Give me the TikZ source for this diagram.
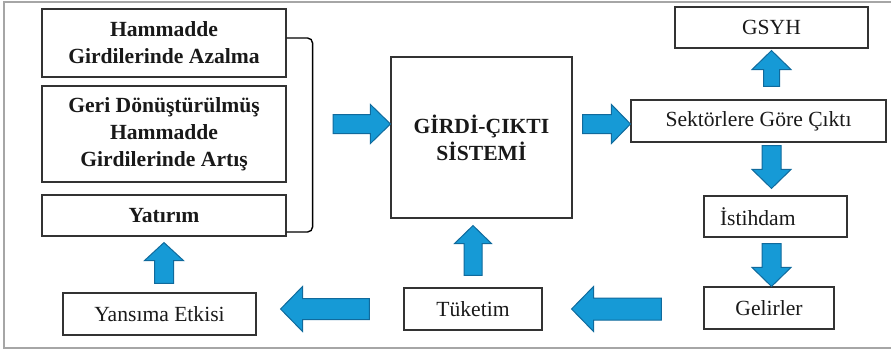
\documentclass[tikz,border=0pt]{standalone}
\usepackage{fontspec}
\setmainfont{Liberation Serif}
\usetikzlibrary{calc}
\definecolor{okmavi}{RGB}{22,154,214}
\definecolor{okkenar}{RGB}{16,106,156}
\tikzset{
	kutu/.style={draw=black!80, line width=1.1pt, inner sep=0pt, align=center, text=black!90, font=\fontsize{21.6}{27}\selectfont},
	kalin/.style={kutu, font=\fontsize{21.6}{27}\selectfont\bfseries},
	blok/.style={fill=okmavi, draw=okkenar, line width=1pt, line join=miter},
	cerceve/.style={draw=black!35, line width=1.3pt},
	parantez/.style={draw=black, line width=1.4pt, rounded corners=5pt}
}
% #1 kuyruk, #2 uc, #3 govde/2, #4 bas/2, #5 bas boyu
\newcommand{\blokok}[5]{%
	\coordinate (bb) at ($(#2)!#5!(#1)$);
	\draw[blok] ($(#1)!#3!90:(#2)$) -- ($(bb)!#3!90:(#2)$) -- ($(bb)!#4!90:(#2)$) -- (#2) -- ($(bb)!#4!-90:(#2)$) -- ($(bb)!#3!-90:(#2)$) -- ($(#1)!#3!-90:(#2)$) -- cycle;}
\begin{document}
\begin{tikzpicture}[x=1pt,y=-1pt]
	\path[use as bounding box] (0,0) rectangle (891,351);
	\draw[cerceve] (891,2) -- (4,2) -- (4,348) -- (891,348);
	
	\node[kalin, minimum width=244pt, minimum height=68pt] (ham) at (164,43) {Hammadde\\Girdilerinde Azalma};
	\node[kalin, minimum width=244pt, minimum height=96pt] (geri) at (164,134) {Geri Dönüştürülmüş\\Hammadde\\Girdilerinde Artış};
	\node[kalin, minimum width=244pt, minimum height=41pt] (yat) at (164,215.5) {Yatırım};
	\node[kalin, minimum width=181pt, minimum height=161pt] (girdi) at (481.5,137.5) {GİRDİ-ÇIKTI\\SİSTEMİ};
	\node[kutu, minimum width=255pt, minimum height=42pt] (sek) at (758.5,121) {Sektörlere Göre Çıktı};
	\node[kutu, minimum width=193pt, minimum height=41pt] (gsyh) at (771.5,27.5) {GSYH};
	\node[kutu, minimum width=143pt, minimum height=41pt, text width=111pt, align=left] (ist) at (775.5,216.5) {İstihdam};
	\node[kutu, minimum width=130pt, minimum height=42pt] (gel) at (769,308) {Gelirler};
	\node[kutu, minimum width=138pt, minimum height=42pt] (tuk) at (473,309) {Tüketim};
	\node[kutu, minimum width=193pt, minimum height=42pt] (yan) at (159.5,314) {Yansıma Etkisi};
	
	\draw[parantez] ([yshift=5pt]ham.east) -- ++(26,0) |- ([yshift=-16.5pt]yat.east);
	
	\coordinate (k1) at (333,124);
	\coordinate (u1) at (girdi.west |- k1);
	\coordinate (k2) at ($(girdi.east |- k1)+(10,0)$);
	\coordinate (u2) at (sek.west |- k1);
	\coordinate (k3) at ($(gsyh.south |- sek.north)+(0,-13)$);
	\coordinate (u3) at ($(gsyh.south)+(0,2)$);
	\coordinate (k4) at ($(gsyh.south |- sek.south)+(0,3)$);
	\coordinate (u4) at ($(gsyh.south |- ist.north)+(0,-7)$);
	\coordinate (k5) at ($(gsyh.south |- ist.south)+(0,6)$);
	\coordinate (u5) at (gsyh.south |- gel.north);
	\coordinate (k6) at ($(gel.west |- tuk.east)+(-42,0)$);
	\coordinate (u6) at ($(tuk.east)+(29,0)$);
	\coordinate (k7) at ($(tuk.north)+(0,-12)$);
	\coordinate (u7) at ($(tuk.north |- girdi.south)+(0,7)$);
	\coordinate (k8) at ($(tuk.west)+(-34,0)$);
	\coordinate (u8) at ($(yan.east |- tuk.west)+(24,0)$);
	\coordinate (k9) at ($(yat.south |- yan.north)+(0,-9)$);
	\coordinate (u9) at ($(yat.south)+(0,6)$);
	
	\blokok{k1}{u1}{9.5pt}{19.5pt}{20pt}
	\blokok{k2}{u2}{9.5pt}{19.5pt}{19pt}
	\blokok{k3}{u3}{8pt}{19.5pt}{19pt}
	\blokok{k4}{u4}{9.5pt}{19.5pt}{19pt}
	\blokok{k5}{u5}{9.5pt}{19.5pt}{19pt}
	\blokok{k6}{u6}{11pt}{22.5pt}{22pt}
	\blokok{k7}{u7}{9pt}{18.5pt}{18pt}
	\blokok{k8}{u8}{10.5pt}{22.5pt}{22pt}
	\blokok{k9}{u9}{9.5pt}{19.5pt}{18pt}
\end{tikzpicture}
\end{document}
